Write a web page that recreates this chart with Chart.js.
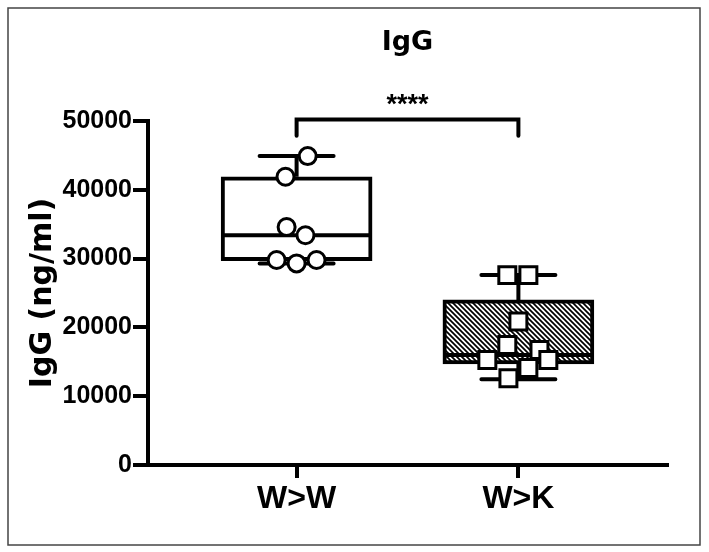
<!DOCTYPE html>
<html>
<head>
<meta charset="utf-8">
<script src="https://cdn.jsdelivr.net/npm/chart.js@4.4.1/dist/chart.umd.min.js"></script>
<style>
    html, body { margin: 0; padding: 0; background: #fff; }
    #wrap { width: 709px; height: 552px; position: relative; }
</style>
</head>
<body>
<div id="wrap"><canvas id="iggChart"></canvas></div>
<script>
const groups = ["W>W", "W>K"];

// individual animals
const wwValues = [44900, 41900, 34600, 33400, 29800, 29300, 29800];
const wwJitter = [0.05, -0.05, -0.045, 0.04, -0.09, 0, 0.09];
const wkValues = [27600, 27600, 20850, 17450, 16700, 15250, 15250, 14100, 12600];
const wkJitter = [-0.05, 0.045, 0, -0.05, 0.095, 0.135, -0.14, 0.045, -0.045];

// box stats: min, q1, median, q3, max
const wwBox = [29300, 29700, 33400, 41900, 44900];
const wkBox = [12450, 14700, 16000, 24000, 27600];

const yTicks = [0, 10000, 20000, 30000, 40000, 50000];
const bracketTop = 50220;
const bracketFoot = 47850;
const stars = "****";

const boxes = [wwBox, wkBox];
const FONT = "'Liberation Sans', Arial, sans-serif";
const WIDE = "'DejaVu Sans', sans-serif";

function makeHatch() {
    const c = document.createElement("canvas");
    c.width = 5;
    c.height = 5;
    const g = c.getContext("2d");
    g.fillStyle = "#fff";
    g.fillRect(0, 0, 5, 5);
    g.strokeStyle = "#000";
    g.lineWidth = 1.7;
    g.beginPath();
    g.moveTo(-1, -1); g.lineTo(6, 6);
    g.moveTo(-1, 4); g.lineTo(1, 6);
    g.moveTo(4, -1); g.lineTo(6, 1);
    g.stroke();
    return g.createPattern(c, "repeat");
}

// whiskers + medians, drawn right after the boxes
const boxExtras = {
    id: "boxExtras",
    afterDatasetDraw(chart, args) {
        if (args.index !== 2) return;
        const { ctx, scales: { x, y } } = chart;
        ctx.save();
        ctx.strokeStyle = "#000";
        ctx.lineWidth = 4;
        boxes.forEach((b, i) => {
            const cx = x.getPixelForValue(i + 1);
            ctx.lineCap = "butt";
            ctx.beginPath();
            ctx.moveTo(cx, y.getPixelForValue(b[3]));
            ctx.lineTo(cx, y.getPixelForValue(b[4]));
            ctx.moveTo(cx, y.getPixelForValue(b[1]));
            ctx.lineTo(cx, y.getPixelForValue(b[0]));
            ctx.moveTo(cx - 74, y.getPixelForValue(b[2]));
            ctx.lineTo(cx + 74, y.getPixelForValue(b[2]));
            ctx.stroke();
            ctx.lineCap = "round";
            ctx.beginPath();
            [b[0], b[4]].forEach((v) => {
                ctx.moveTo(cx - 37, y.getPixelForValue(v));
                ctx.lineTo(cx + 37, y.getPixelForValue(v));
            });
            ctx.stroke();
        });
        ctx.restore();
    }
};

const decorations = {
    id: "decorations",
    afterDraw(chart) {
        const { ctx, chartArea, scales: { x, y } } = chart;
        ctx.save();
        // frame
        ctx.strokeStyle = "#444";
        ctx.lineWidth = 1.5;
        ctx.strokeRect(8, 8, 692, 537);

        // title
        ctx.fillStyle = "#000";
        ctx.textAlign = "center";
        ctx.textBaseline = "alphabetic";
        ctx.font = "bold 27px " + WIDE;
        ctx.fillText("IgG", (chartArea.left + chartArea.right) / 2, 50);

        // significance bracket
        const x1 = x.getPixelForValue(1);
        const x2 = x.getPixelForValue(2);
        const yt = y.getPixelForValue(bracketTop);
        const yf = y.getPixelForValue(bracketFoot);
        ctx.strokeStyle = "#000";
        ctx.lineWidth = 4;
        ctx.lineJoin = "miter";
        ctx.lineCap = "round";
        ctx.beginPath();
        ctx.moveTo(x1, yf);
        ctx.lineTo(x1, yt);
        ctx.lineTo(x2, yt);
        ctx.lineTo(x2, yf);
        ctx.stroke();
        ctx.font = "bold 27px " + FONT;
        ctx.fillText(stars, (x1 + x2) / 2, 113);
        ctx.restore();
    }
};

const ctx = document.getElementById("iggChart").getContext("2d");

new Chart(ctx, {
    type: "bar",
    data: {
        datasets: [
            {
                type: "scatter",
                label: "W>W",
                data: wwValues.map((v, i) => ({ x: 1 + wwJitter[i], y: v })),
                pointStyle: "circle",
                pointRadius: 8.5,
                pointBorderWidth: 3,
                pointBackgroundColor: "#fff",
                pointBorderColor: "#000",
                order: 1,
            },
            {
                type: "scatter",
                label: "W>K",
                data: wkValues.map((v, i) => ({ x: 2 + wkJitter[i], y: v })),
                pointStyle: "rect",
                pointRadius: 12,
                pointBorderWidth: 3,
                pointBackgroundColor: "#fff",
                pointBorderColor: "#000",
                order: 1,
            },
            {
                type: "bar",
                label: "box",
                data: boxes.map((b, i) => ({ x: i + 1, y: [b[1], b[3]] })),
                backgroundColor: ["#fff", makeHatch()],
                borderColor: "#000",
                borderWidth: 4,
                borderSkipped: false,
                barThickness: 151,
                order: 2,
            },
        ],
    },
    options: {
        responsive: true,
        maintainAspectRatio: false,
        animation: false,
        layout: { padding: { left: 0, right: 42, top: 121, bottom: 0 } },
        plugins: {
            legend: { display: false },
            tooltip: { enabled: false },
            title: { display: false },
        },
        scales: {
            x: {
                type: "linear",
                min: 0.33,
                max: 2.67,
                offset: false,
                afterFit: (scale) => { scale.height = 87; },
                afterBuildTicks: (scale) => { scale.ticks = [{ value: 1 }, { value: 2 }]; },
                grid: {
                    drawOnChartArea: false,
                    offset: false,
                    color: "#000",
                    lineWidth: 4,
                    tickLength: 13,
                },
                border: { display: true, color: "#000", width: 4 },
                ticks: {
                    color: "#000",
                    padding: 2,
                    maxRotation: 0,
                    font: { family: FONT, size: 32, weight: "bold" },
                    callback: (v) => groups[v - 1],
                },
            },
            y: {
                min: 0,
                max: 50000,
                afterFit: (scale) => { scale.width = 148; },
                afterBuildTicks: (scale) => { scale.ticks = yTicks.map((v) => ({ value: v })); },
                grid: {
                    drawOnChartArea: false,
                    color: "#000",
                    lineWidth: 4,
                    tickLength: 15,
                },
                border: { display: true, color: "#000", width: 4 },
                ticks: {
                    color: "#000",
                    padding: 1,
                    font: { family: FONT, size: 25, weight: "bold" },
                    callback: (v) => String(v),
                },
                title: {
                    display: true,
                    text: "IgG (ng/ml)",
                    color: "#000",
                    padding: { top: 25, bottom: 0 },
                    font: { family: WIDE, size: 30, weight: "bold" },
                },
            },
        },
    },
    plugins: [boxExtras, decorations],
});
</script>
</body>
</html>
